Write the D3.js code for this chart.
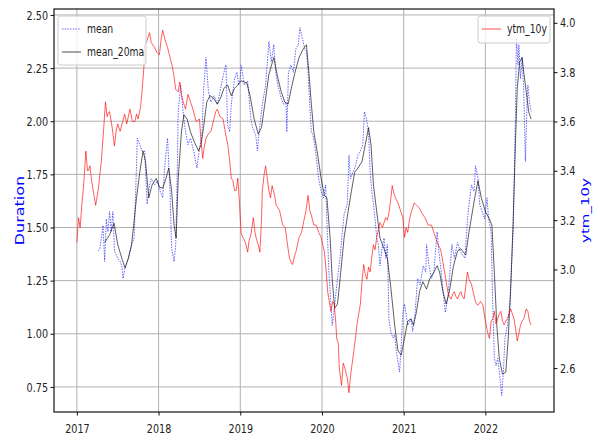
<!DOCTYPE html>
<html><head><meta charset="utf-8">
<script src="https://cdn.jsdelivr.net/npm/d3@7"></script>
<style>body{margin:0;background:#fff}</style>
</head><body>
<svg id="c" width="600" height="443"></svg>
<script>
// ---- data (time as fractional year) ----
const ytmT = [2017.00,2017.02,2017.04,2017.06,2017.08,2017.11,2017.13,2017.14,2017.16,2017.18,2017.21,2017.23,2017.26,2017.28,2017.30,2017.33,2017.35,2017.37,2017.38,2017.40,2017.43,2017.46,2017.48,2017.50,2017.53,2017.56,2017.585,2017.61,2017.63,2017.65,2017.68,2017.71,2017.73,2017.75,2017.78,2017.80,2017.82,2017.83,2017.86,2017.89,2017.91,2017.95,2017.98,2018.01,2018.03,2018.05,2018.08,2018.11,2018.14,2018.17,2018.19,2018.21,2018.24,2018.26,2018.28,2018.30,2018.33,2018.36,2018.39,2018.42,2018.46,2018.50,2018.52,2018.54,2018.56,2018.58,2018.61,2018.64,2018.67,2018.70,2018.72,2018.75,2018.79,2018.82,2018.85,2018.87,2018.89,2018.91,2018.93,2018.95,2018.97,2018.99,2019.01,2019.03,2019.05,2019.07,2019.09,2019.11,2019.13,2019.16,2019.18,2019.20,2019.22,2019.24,2019.26,2019.27,2019.29,2019.31,2019.33,2019.35,2019.37,2019.39,2019.42,2019.44,2019.48,2019.50,2019.52,2019.55,2019.57,2019.60,2019.62,2019.64,2019.66,2019.68,2019.70,2019.72,2019.75,2019.78,2019.80,2019.83,2019.85,2019.87,2019.90,2019.93,2019.96,2019.99,2020.01,2020.03,2020.05,2020.07,2020.09,2020.11,2020.13,2020.15,2020.17,2020.18,2020.20,2020.21,2020.22,2020.24,2020.26,2020.28,2020.31,2020.33,2020.35,2020.37,2020.39,2020.41,2020.43,2020.45,2020.47,2020.49,2020.51,2020.53,2020.55,2020.57,2020.59,2020.61,2020.63,2020.65,2020.67,2020.69,2020.71,2020.74,2020.78,2020.80,2020.82,2020.84,2020.86,2020.88,2020.90,2020.93,2020.96,2020.99,2021.01,2021.03,2021.05,2021.07,2021.09,2021.11,2021.13,2021.16,2021.19,2021.22,2021.26,2021.30,2021.34,2021.36,2021.38,2021.40,2021.42,2021.44,2021.46,2021.48,2021.50,2021.52,2021.54,2021.56,2021.58,2021.60,2021.62,2021.64,2021.66,2021.68,2021.70,2021.72,2021.74,2021.76,2021.78,2021.80,2021.83,2021.85,2021.87,2021.89,2021.91,2021.94,2021.97,2021.99,2022.01,2022.03,2022.05,2022.07,2022.09,2022.11,2022.13,2022.15,2022.17,2022.19,2022.21,2022.23,2022.25,2022.27,2022.29,2022.31,2022.33,2022.35,2022.37,2022.39,2022.41,2022.43,2022.45,2022.47,2022.50,2022.52,2022.54,2022.56];
const ytmV = [3.11,3.21,3.17,3.26,3.33,3.48,3.40,3.40,3.42,3.36,3.30,3.26,3.32,3.38,3.44,3.58,3.68,3.62,3.63,3.64,3.58,3.50,3.56,3.59,3.56,3.60,3.63,3.59,3.62,3.65,3.60,3.60,3.63,3.61,3.66,3.73,3.82,3.91,3.93,3.96,3.92,3.90,3.88,3.87,3.93,3.97,3.93,3.90,3.86,3.82,3.78,3.73,3.72,3.76,3.71,3.68,3.65,3.71,3.68,3.65,3.60,3.61,3.52,3.45,3.50,3.53,3.55,3.56,3.60,3.64,3.65,3.62,3.61,3.55,3.50,3.44,3.37,3.36,3.32,3.32,3.37,3.27,3.15,3.13,3.12,3.10,3.07,3.12,3.14,3.21,3.15,3.12,3.10,3.07,3.20,3.32,3.38,3.42,3.37,3.32,3.29,3.34,3.30,3.26,3.24,3.21,3.18,3.17,3.12,3.05,3.03,3.02,3.05,3.07,3.10,3.13,3.15,3.20,3.23,3.30,3.24,3.22,3.18,3.18,3.15,3.13,3.10,3.07,3.00,2.91,2.87,2.83,2.87,2.86,2.78,2.72,2.70,2.61,2.58,2.53,2.62,2.60,2.56,2.50,2.57,2.62,2.67,2.72,2.78,2.82,2.86,2.95,3.02,2.98,2.96,3.01,2.99,3.05,3.10,3.08,3.13,3.16,3.19,3.17,3.21,3.20,3.23,3.28,3.34,3.31,3.29,3.27,3.24,3.21,3.13,3.17,3.15,3.20,3.23,3.25,3.27,3.26,3.25,3.23,3.21,3.18,3.18,3.16,3.14,3.12,3.10,3.09,3.07,3.03,2.99,2.95,2.91,2.89,2.88,2.90,2.91,2.89,2.88,2.90,2.91,2.89,2.88,2.93,2.99,2.96,2.94,2.91,2.88,2.86,2.855,2.87,2.855,2.81,2.775,2.74,2.72,2.79,2.80,2.83,2.78,2.80,2.82,2.83,2.79,2.775,2.79,2.80,2.82,2.84,2.82,2.80,2.76,2.71,2.74,2.775,2.79,2.80,2.84,2.83,2.79,2.775];

const meanT = [2017.26,2017.28,2017.30,2017.32,2017.34,2017.36,2017.38,2017.40,2017.42,2017.44,2017.46,2017.50,2017.53,2017.55,2017.565,2017.59,2017.63,2017.67,2017.70,2017.72,2017.74,2017.77,2017.80,2017.83,2017.86,2017.89,2017.91,2017.95,2017.99,2018.02,2018.05,2018.08,2018.11,2018.14,2018.16,2018.19,2018.21,2018.23,2018.24,2018.27,2018.30,2018.33,2018.36,2018.39,2018.43,2018.47,2018.50,2018.53,2018.55,2018.58,2018.61,2018.64,2018.68,2018.72,2018.76,2018.80,2018.825,2018.845,2018.87,2018.89,2018.93,2018.96,2018.98,2019.00,2019.01,2019.05,2019.09,2019.13,2019.15,2019.19,2019.21,2019.23,2019.27,2019.31,2019.35,2019.38,2019.41,2019.435,2019.46,2019.50,2019.53,2019.56,2019.57,2019.59,2019.62,2019.65,2019.68,2019.71,2019.73,2019.76,2019.79,2019.81,2019.83,2019.85,2019.87,2019.89,2019.91,2019.93,2019.96,2019.99,2020.02,2020.045,2020.065,2020.085,2020.105,2020.125,2020.145,2020.165,2020.19,2020.22,2020.25,2020.27,2020.31,2020.33,2020.35,2020.38,2020.41,2020.44,2020.47,2020.50,2020.52,2020.545,2020.57,2020.59,2020.61,2020.63,2020.65,2020.67,2020.69,2020.71,2020.73,2020.76,2020.78,2020.80,2020.82,2020.84,2020.87,2020.89,2020.91,2020.95,2020.97,2020.99,2021.01,2021.05,2021.09,2021.11,2021.14,2021.17,2021.20,2021.24,2021.27,2021.28,2021.31,2021.34,2021.37,2021.39,2021.41,2021.43,2021.46,2021.49,2021.51,2021.54,2021.56,2021.59,2021.62,2021.66,2021.69,2021.72,2021.75,2021.78,2021.80,2021.83,2021.86,2021.88,2021.91,2021.93,2021.96,2021.99,2022.02,2022.04,2022.07,2022.09,2022.11,2022.13,2022.15,2022.18,2022.20,2022.22,2022.24,2022.27,2022.30,2022.32,2022.34,2022.355,2022.37,2022.38,2022.40,2022.41,2022.43,2022.45,2022.47,2022.49,2022.51,2022.52,2022.54,2022.56];
const meanV = [1.39,1.40,1.45,1.51,1.34,1.54,1.48,1.575,1.48,1.575,1.39,1.355,1.34,1.32,1.26,1.31,1.355,1.42,1.45,1.67,1.92,1.89,1.86,1.86,1.61,1.70,1.73,1.70,1.72,1.67,1.64,1.81,1.92,1.67,1.40,1.34,1.42,1.79,2.045,2.17,2.045,1.95,1.89,1.92,1.86,1.78,1.87,1.935,2.14,2.30,2.14,2.09,2.12,2.08,2.155,2.23,2.265,1.98,1.95,2.08,2.20,2.23,2.17,2.20,2.265,2.17,2.19,2.01,1.97,1.935,1.86,1.95,2.08,2.17,2.375,2.28,2.36,2.23,2.17,2.11,2.08,2.09,1.95,2.23,2.265,2.23,2.34,2.36,2.44,2.39,2.34,2.33,2.23,2.08,1.95,1.935,1.89,1.83,1.73,1.67,1.64,1.70,1.48,1.29,1.17,1.04,1.10,1.17,1.26,1.355,1.48,1.56,1.61,1.84,1.73,1.76,1.79,1.84,1.86,1.89,2.045,2.01,1.95,1.76,1.67,1.61,1.54,1.45,1.42,1.32,1.39,1.45,1.355,1.42,1.07,1.01,0.98,0.995,0.92,0.82,0.95,1.10,1.14,1.04,1.07,1.01,1.10,1.26,1.23,1.32,1.29,1.42,1.32,1.26,1.29,1.39,1.48,1.39,1.29,1.17,1.10,1.17,1.26,1.42,1.355,1.43,1.39,1.37,1.355,1.53,1.61,1.70,1.67,1.79,1.73,1.61,1.575,1.54,1.64,1.54,1.48,1.14,0.885,0.85,0.885,0.79,0.71,0.82,0.98,1.04,1.14,1.32,1.48,1.76,2.08,2.39,2.265,2.36,2.20,2.30,2.14,1.81,2.09,2.17,2.09,2.045];

const maT = [2017.34,2017.40,2017.455,2017.50,2017.55,2017.59,2017.63,2017.67,2017.73,2017.77,2017.81,2017.84,2017.88,2017.92,2017.97,2018.01,2018.05,2018.09,2018.125,2018.16,2018.19,2018.215,2018.24,2018.28,2018.31,2018.35,2018.39,2018.44,2018.49,2018.52,2018.55,2018.59,2018.63,2018.67,2018.72,2018.76,2018.80,2018.845,2018.89,2018.93,2018.97,2019.01,2019.08,2019.12,2019.17,2019.22,2019.26,2019.30,2019.35,2019.41,2019.45,2019.50,2019.545,2019.585,2019.625,2019.67,2019.72,2019.77,2019.81,2019.84,2019.87,2019.90,2019.94,2019.99,2020.03,2020.06,2020.10,2020.125,2020.155,2020.19,2020.23,2020.27,2020.32,2020.36,2020.40,2020.44,2020.49,2020.53,2020.57,2020.60,2020.63,2020.67,2020.71,2020.76,2020.80,2020.845,2020.89,2020.93,2020.97,2021.01,2021.05,2021.09,2021.12,2021.155,2021.195,2021.235,2021.28,2021.32,2021.37,2021.41,2021.44,2021.48,2021.52,2021.56,2021.61,2021.66,2021.70,2021.76,2021.80,2021.87,2021.91,2021.95,2022.00,2022.05,2022.08,2022.11,2022.14,2022.17,2022.21,2022.25,2022.28,2022.31,2022.34,2022.37,2022.39,2022.42,2022.45,2022.47,2022.50,2022.53,2022.56];
const maV = [1.43,1.465,1.52,1.42,1.355,1.31,1.355,1.42,1.64,1.76,1.86,1.81,1.64,1.70,1.73,1.69,1.685,1.73,1.78,1.67,1.51,1.45,1.73,1.95,2.03,2.01,1.95,1.90,1.86,1.89,1.97,2.09,2.12,2.11,2.08,2.11,2.155,2.17,2.12,2.155,2.17,2.19,2.18,2.12,2.01,1.94,1.97,2.08,2.22,2.30,2.22,2.14,2.09,2.08,2.155,2.23,2.30,2.34,2.36,2.23,2.08,1.95,1.86,1.73,1.65,1.64,1.45,1.26,1.12,1.14,1.29,1.45,1.575,1.67,1.76,1.78,1.81,1.89,1.97,1.89,1.70,1.575,1.45,1.40,1.355,1.21,1.04,0.92,0.90,0.98,1.06,1.07,1.04,1.10,1.20,1.245,1.21,1.26,1.29,1.32,1.29,1.20,1.14,1.20,1.32,1.39,1.40,1.37,1.48,1.64,1.72,1.64,1.575,1.54,1.51,1.29,1.04,0.885,0.81,0.82,0.98,1.21,1.53,1.92,2.155,2.28,2.30,2.23,2.14,2.045,2.01];

const xTickLabels = ["2017","2018","2019","2020","2021","2022"];
const yLeftTicks = [0.75,1.00,1.25,1.50,1.75,2.00,2.25,2.50];
const yRightTicks = [2.6,2.8,3.0,3.2,3.4,3.6,3.8,4.0];

// ---- layout ----
const FONT = "DejaVu Sans";
const FS = 13;
const SX = 0.74; // horizontal squeeze of glyphs seen in the picture
const P = {l:54, r:554, t:9, b:412};
const svg = d3.select("#c");

const x = d3.scaleLinear().domain([2016.72, 2022.84]).range([P.l, P.r]);
const yL = d3.scaleLinear().domain([0.632, 2.528]).range([P.b, P.t]);
const yR = d3.scaleLinear().domain([2.422, 4.056]).range([P.b, P.t]);
const xTicks = xTickLabels.map(Number);

// grid
const grid = svg.append("g").attr("stroke", "#b0b0b0").attr("stroke-width", 1);
xTicks.forEach(t => grid.append("line").attr("x1", x(t)).attr("x2", x(t)).attr("y1", P.t).attr("y2", P.b));
yLeftTicks.forEach(v => grid.append("line").attr("x1", P.l).attr("x2", P.r).attr("y1", yL(v)).attr("y2", yL(v)));

// clip
svg.append("clipPath").attr("id", "clip").append("rect")
  .attr("x", P.l).attr("y", P.t).attr("width", P.r - P.l).attr("height", P.b - P.t);

const zip = (T, V) => T.map((t, i) => [t, V[i]]);
const lineL = d3.line().x(d => x(d[0])).y(d => yL(d[1]));
const lineR = d3.line().x(d => x(d[0])).y(d => yR(d[1]));

const plot = svg.append("g").attr("clip-path", "url(#clip)");
plot.append("path").datum(zip(meanT, meanV)).attr("d", lineL)
  .attr("fill", "none").attr("stroke", "blue").attr("stroke-opacity", 0.6)
  .attr("stroke-width", 1).attr("stroke-dasharray", "1.5,1.2");
plot.append("path").datum(zip(maT, maV)).attr("d", lineL)
  .attr("fill", "none").attr("stroke", "black").attr("stroke-opacity", 0.7)
  .attr("stroke-width", 0.9);

// legend helper
function legend(x0, y0, w, h, items) {
  const g = svg.append("g");
  g.append("rect").attr("x", x0).attr("y", y0).attr("width", w).attr("height", h)
    .attr("rx", 2.5).attr("fill", "white").attr("fill-opacity", 0.8)
    .attr("stroke", "#cccccc").attr("stroke-width", 1);
  items.forEach((it, i) => {
    const yy = y0 + 13 + i * 23;
    g.append("line").attr("x1", x0 + 4).attr("x2", x0 + 23).attr("y1", yy).attr("y2", yy)
      .attr("stroke", it.color).attr("stroke-opacity", it.op).attr("stroke-width", 1)
      .attr("stroke-dasharray", it.dash || null);
    g.append("text").attr("transform", `translate(${x0 + 29},${yy}) scale(${SX},1)`)
      .attr("dy", "0.35em").attr("font-family", FONT).attr("font-size", 12.5)
      .attr("fill", "#222").text(it.label);
  });
}
legend(58, 16, 88, 49, [
  {label: "mean", color: "blue", op: 0.6, dash: "1.5,1.2"},
  {label: "mean_20ma", color: "black", op: 0.7}
]);

plot.append("path").datum(zip(ytmT, ytmV)).attr("d", lineR)
  .attr("fill", "none").attr("stroke", "red").attr("stroke-opacity", 0.7)
  .attr("stroke-width", 0.9);

legend(478, 16, 72, 27, [{label: "ytm_10y", color: "red", op: 0.7}]);

// spines
svg.append("rect").attr("x", P.l).attr("y", P.t).attr("width", P.r - P.l).attr("height", P.b - P.t)
  .attr("fill", "none").attr("stroke", "#111").attr("stroke-width", 1.2);

// axes
function styleAxis(g) {
  g.select(".domain").remove();
  g.selectAll(".tick line").attr("stroke", "#111").attr("stroke-width", 1);
  g.selectAll(".tick text").attr("font-family", FONT).attr("font-size", FS).attr("fill", "#222");
}
const axB = svg.append("g").attr("transform", `translate(0,${P.b})`)
  .call(d3.axisBottom(x).tickValues(xTicks).tickFormat((d, i) => xTickLabels[i]).tickSize(3.5).tickPadding(8));
styleAxis(axB);
axB.selectAll(".tick text").attr("transform", `scale(${SX},1)`);

const axL = svg.append("g").attr("transform", `translate(${P.l},0)`)
  .call(d3.axisLeft(yL).tickValues(yLeftTicks).tickFormat(d3.format(".2f")).tickSize(3.5));
styleAxis(axL);
axL.selectAll(".tick text").attr("x", 0).attr("transform", `translate(-6,0) scale(${SX},1)`);

const axR = svg.append("g").attr("transform", `translate(${P.r},0)`)
  .call(d3.axisRight(yR).tickValues(yRightTicks).tickFormat(d3.format(".1f")).tickSize(3.5));
styleAxis(axR);
axR.selectAll(".tick text").attr("x", 0).attr("transform", `translate(6,0) scale(${SX},1)`);

// axis titles
const cy = (P.t + P.b) / 2;
svg.append("text").attr("transform", `translate(20,${cy}) scale(${SX},1) rotate(-90)`)
  .attr("text-anchor", "middle").attr("dy", "0.35em").attr("font-family", FONT)
  .attr("font-size", 16).attr("fill", "blue").text("Duration");
svg.append("text").attr("transform", `translate(585,${cy}) scale(${SX},1) rotate(-90)`)
  .attr("text-anchor", "middle").attr("dy", "0.35em").attr("font-family", FONT)
  .attr("font-size", 15).attr("fill", "blue").text("ytm_10y");
</script>
</body></html>
